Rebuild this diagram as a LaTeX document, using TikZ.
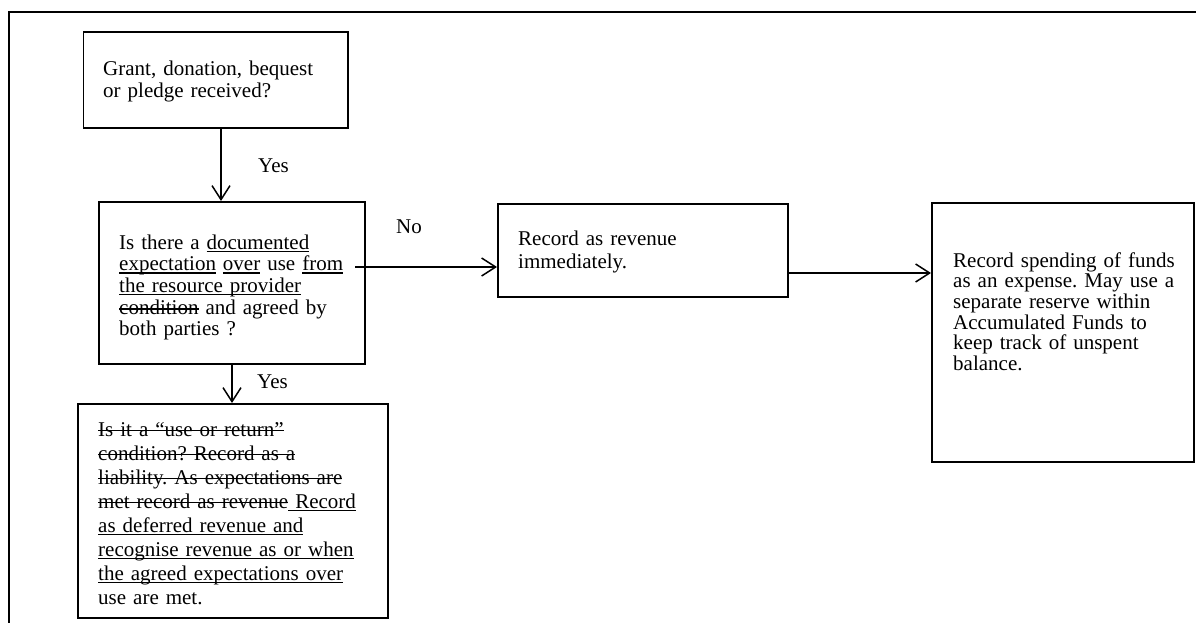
\documentclass[tikz,border=0pt]{standalone}
\usepackage{fontspec}
\setmainfont{Liberation Serif}
\usetikzlibrary{arrows.meta}
\frenchspacing
\newsavebox{\mylinebox}
\newcommand{\myul}[1]{\leavevmode\sbox{\mylinebox}{#1}\rlap{\rule[-2.8pt]{\wd\mylinebox}{1.1pt}}\usebox{\mylinebox}}
\newcommand{\myso}[1]{\leavevmode\sbox{\mylinebox}{#1}\rlap{\rule[4.6pt]{\wd\mylinebox}{1.1pt}}\usebox{\mylinebox}}
\begin{document}
\begin{tikzpicture}[x=1pt,y=-1pt,
  box/.style={draw,line width=1.8pt,inner sep=0pt,anchor=north west},
  txt/.style={anchor=base west,inner sep=0pt,text width=300pt,align=left,font=\fontsize{21pt}{#1}\selectfont\frenchspacing},
  lbl/.style={anchor=base west,inner sep=0pt,font=\fontsize{21pt}{22pt}\selectfont},
  arr/.style={line width=1.5pt,-{Straight Barb[length=14pt,width=18pt]}}]
\useasboundingbox (0,0) rectangle (1196,623);
\draw[line width=2pt] (9,623) -- (9,12.5) -- (1196,12.5);
% boxes
\node[box,minimum width=264.5pt,minimum height=96pt] (b1) at (82.5,31) {};
\node[box,minimum width=266pt,minimum height=162pt] (b2) at (98,201) {};
\node[box,minimum width=290pt,minimum height=93pt] (b3) at (497,203) {};
\node[box,minimum width=262pt,minimum height=259pt] (b4) at (931,202) {};
\node[box,minimum width=310pt,minimum height=214pt] (b5) at (77,403) {};
% texts
\node[txt=22pt] (t1) at (103,76) {Grant, donation, bequest\\or pledge received?};
\node[txt=21.7pt] (t2) at (119,249) {Is there a \myul{documented}\\\myul{expectation} \myul{over} use \myul{from}\\\myul{the resource provider}\\\myso{condition} and agreed by\\both parties ?};
\node[txt=23pt] (t3) at (518,245) {Record as revenue\\immediately.};
\node[txt=20.7pt] (t4) at (953,267) {Record spending of funds\\as an expense. May use a\\separate reserve within\\Accumulated Funds to\\keep track of unspent\\balance.};
\node[txt=24pt] (t5) at (98,436) {\myso{Is it a “use or return”}\\\myso{condition? Record as a}\\\myso{liability. As expectations are}\\\myso{met record as revenue}\myul{\ Record}\\\myul{as deferred revenue and}\\\myul{recognise revenue as or when}\\\myul{the agreed expectations over}\\use are met.};
% labels
\node[lbl] (yes1) at (258,172) {Yes};
\node[lbl] (no) at (396,233) {No};
\node[lbl] (yes2) at (257,388) {Yes};
% connectors
\coordinate (a1) at (221,0);
\coordinate (a4) at (232,0);
\coordinate (nostart) at (355,267);
\coordinate (a3) at (0,273);
\draw[arr] (a1 |- b1.south) -- (a1 |- b2.north);
\draw[arr] (nostart) -- (nostart -| b3.west);
\draw[arr] (a3 -| b3.east) -- (a3 -| b4.west);
\draw[arr] (a4 |- b2.south) -- (a4 |- b5.north);
\end{tikzpicture}
\end{document}
